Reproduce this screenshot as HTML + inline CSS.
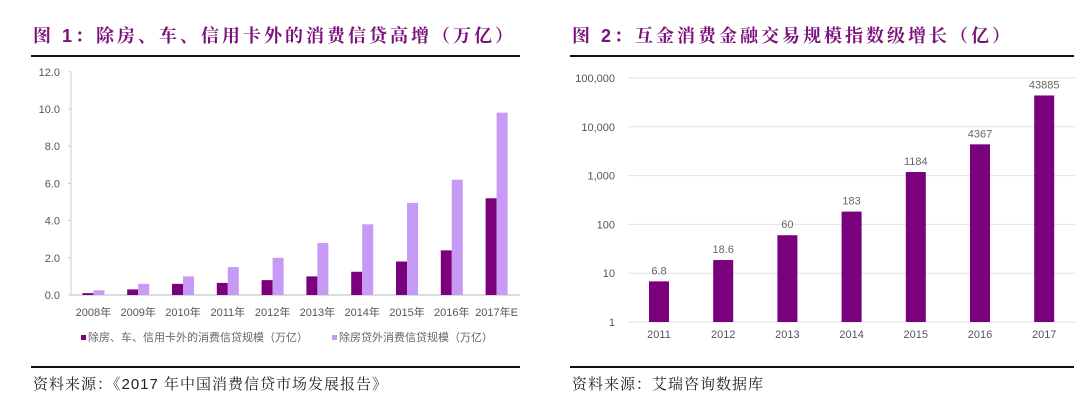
<!DOCTYPE html>
<html><head><meta charset="utf-8"><style>
body{margin:0;width:1080px;height:403px;background:#fff;overflow:hidden;position:relative;font-family:"Liberation Sans","Noto Sans CJK SC",sans-serif}
.t{position:absolute;font-weight:bold;color:#7a117a;font-size:18px;font-family:"Liberation Sans","Noto Serif CJK SC",serif;letter-spacing:3px}
.s{position:absolute;font-size:15px;color:#222;font-family:"Liberation Sans","Noto Serif CJK SC",serif;letter-spacing:1px}
.hr{position:absolute;height:2px;background:#111}
</style></head><body>
<div class="t" style="left:33px;top:22px">图 1：除房、车、信用卡外的消费信贷高增（万亿）</div>
<div class="hr" style="left:31px;top:55px;width:489px"></div>
<div class="t" style="left:572px;top:22px">图 2：互金消费金融交易规模指数级增长（亿）</div>
<div class="hr" style="left:570px;top:55px;width:504px"></div>
<div class="hr" style="left:31px;top:366px;width:489px"></div>
<div class="hr" style="left:570px;top:366px;width:504px"></div>
<div class="s" style="left:33px;top:373px">资料来源：《2017 年中国消费信贷市场发展报告》</div>
<div class="s" style="left:572px;top:373px">资料来源：艾瑞咨询数据库</div>
<svg id="c1" width="1080" height="403" style="position:absolute;left:0;top:0"></svg>
<script>
const cats1=["2008年","2009年","2010年","2011年","2012年","2013年","2014年","2015年","2016年","2017年E"];
const dark1=[0.1,0.3,0.6,0.65,0.8,1.0,1.25,1.8,2.4,5.2];
const light1=[0.25,0.6,1.0,1.5,2.0,2.8,3.8,4.95,6.2,9.8];
const ticks1=[0,2,4,6,8,10,12];
const cats2=["2011","2012","2013","2014","2015","2016","2017"];
const vals2=[6.8,18.6,60,183,1184,4367,43885];
const labels2=["6.8","18.6","60","183","1184","4367","43885"];
const ticks2=[1,10,100,1000,10000,100000];
const tickLabels2=["1","10","100","1,000","10,000","100,000"];

const svg=document.getElementById('c1');const NS="http://www.w3.org/2000/svg";
function mk(tag,a,txt){const e=document.createElementNS(NS,tag);for(const k in a)e.setAttribute(k,a[k]);if(txt!=null)e.textContent=txt;svg.appendChild(e);return e;}
// chart1
const y1=v=>295-v*18.6;const x0=71,step1=44.8;
ticks1.forEach(t=>{const e=mk('text',{x:60,y:y1(t)+4,'text-anchor':'end','font-size':11,fill:'#555'},t.toFixed(1));


mk('line',{x1:x0-3,x2:x0,y1:y1(t),y2:y1(t),stroke:'#ccc'});});
mk('line',{x1:x0,x2:x0,y1:y1(12),y2:295,stroke:'#ccc'});
mk('line',{x1:x0,x2:520,y1:295,y2:295,stroke:'#bbb'});
cats1.forEach((c,i)=>{const cx=x0+step1*(i+0.5);
const d=mk('rect',{x:cx-11,y:y1(dark1[i]),width:11,height:295-y1(dark1[i]),fill:'#7b007b'});


const l=mk('rect',{x:cx,y:y1(light1[i]),width:11,height:295-y1(light1[i]),fill:'#c79af5'});


const t=mk('text',{x:cx,y:316,'text-anchor':'middle','font-size':11,fill:'#555'},c);

});
mk('rect',{x:81,y:335,width:5,height:5,fill:'#7b007b'});
let lg=mk('text',{x:88,y:341,'font-size':11,fill:'#666'},'除房、车、信用卡外的消费信贷规模（万亿）');


mk('rect',{x:332,y:335,width:5,height:5,fill:'#c79af5'});
lg=mk('text',{x:339,y:341,'font-size':11,fill:'#666'},'除房贷外消费信贷规模（万亿）');


// chart2
const y2=v=>322-Math.log10(v)*48.8;const x2=628,step2=64.2;
ticks2.forEach((t,i)=>{mk('line',{x1:x2,x2:1075,y1:y2(t),y2:y2(t),stroke:'#e2e2e2'});
const e=mk('text',{x:615,y:y2(t)+4,'text-anchor':'end','font-size':11,fill:'#555'},tickLabels2[i]);

});
cats2.forEach((c,i)=>{const cx=659+step2*i;
const b=mk('rect',{x:cx-10,y:y2(vals2[i]),width:20,height:322-y2(vals2[i]),fill:'#7b007b'});


const v=mk('text',{x:cx,y:y2(vals2[i])-7,'text-anchor':'middle','font-size':11,fill:'#666'},labels2[i]);


const t=mk('text',{x:cx,y:338,'text-anchor':'middle','font-size':11,fill:'#555'},c);

});
</script>
</body></html>
